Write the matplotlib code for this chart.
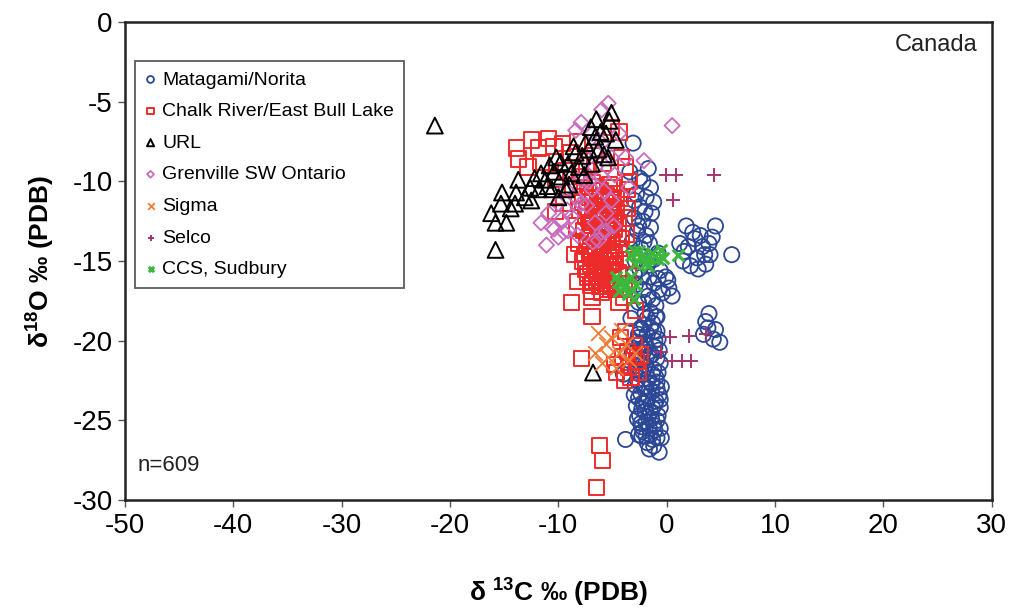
import matplotlib
matplotlib.use("Agg")
import matplotlib.pyplot as plt

plt.rcParams['font.family'] = ['Liberation Sans', 'DejaVu Sans']
plt.rcParams['mathtext.fontset'] = 'custom'
plt.rcParams['mathtext.rm'] = 'Liberation Sans'
plt.rcParams['mathtext.bf'] = 'Liberation Sans:bold'
plt.rcParams['axes.unicode_minus'] = False

# d13C / d18O pairs per site (permil, PDB)
matagami_c = [-3.1, -2.2, -2.8, -1.9, -2.5, -1.5, -3.0, -2.2, -1.4, -2.7, -1.9, -3.2, -2.4, -1.6, -0.8,
              -2.9, -1.8, -0.6, -2.3, -1.2, 0.1, -0.4, -1.7, -2.6, 0.5, -1.0, -2.0, -1.3, -2.4, -3.3,
              -0.1, -0.7, 0.2, -3.4, -3.0, -2.6,
              -2.5, -1.7, -3.0, -2.0, -1.2, -2.6, -1.5, -2.1, -3.0, -1.2, -2.5, -1.6, -0.8, -2.1, -1.3,
              -2.9, -0.9, -1.8,
              1.2, 1.8, 2.6, 3.3, 4.0, 3.6, 2.8, 2.2, 3.1, 4.5, 6.0, 3.9, 1.6,
              2.0, 3.5, 2.4, 4.2, 1.5, 2.9,
              3.9, 3.8, 4.3, 4.9, 3.4, 4.5, 3.6,
              -2.6, -1.8, -1.1, -2.2, -1.4, -0.7, -2.8, -2.0, -1.2, -0.6, -2.5, -1.7, -0.9, -2.9,
              -2.1, -1.4, -0.7, -2.6, -1.9, -1.1, -2.3, -1.5, -0.8, -2.7, -1.9, -1.2, -0.6, -2.2,
              -1.5, -0.9, -1.8, -1.2, -3.8, -0.7, -2.4, -1.6, -2.0, -1.0, -1.7, -2.5, -3.2, -3.0,
              -1.3, -2.3, -0.9, -4.0, -1.5, -2.1, -1.0, -2.4,
              -2.4, -1.5, -0.8, -2.7, -1.9, -1.1, -2.3, -0.9, -1.9, -0.8, -2.7, -1.4, -2.4, -1.7,
              -0.9, -2.8, -2.0, -1.3, -0.6, -2.5, -1.4, -2.3, -1.6, -0.9, -2.6, -1.9, -1.3, -1.6,
              -2.1, -1.2, -0.5, -0.6, -2.9, -1.7, -2.2, -1.1, -0.5, -1.0]
matagami_o = [-7.6, -10.0, -10.8, -11.0, -11.6, -10.4, -12.3, -12.5, -12.0, -13.1, -13.4, -13.8, -14.2, -13.9, -14.5,
              -15.0, -15.3, -15.6, -16.0, -16.4, -16.2, -17.0, -17.2, -17.6, -17.2, -17.8, -18.3, -18.9, -19.2, -18.6,
              -16.0, -16.8, -16.7, -9.4, -15.8, -19.6,
              -9.8, -9.2, -11.2, -11.9, -11.3, -12.8, -12.9, -13.8, -14.5, -14.9, -15.5, -16.0, -16.1, -16.8, -17.4,
              -16.5, -18.5, -18.6,
              -13.9, -12.8, -13.6, -14.1, -14.6, -15.2, -14.8, -15.3, -13.4, -12.8, -14.6, -13.9, -14.4,
              -14.1, -14.6, -13.2, -13.5, -15.0, -15.5,
              -18.3, -19.2, -19.9, -20.1, -19.6, -19.3, -18.8,
              -19.8, -19.6, -20.0, -20.5, -20.9, -20.6, -21.2, -21.5, -21.8, -21.4, -22.1, -22.4, -22.6, -22.8,
              -23.0, -23.2, -23.4, -23.6, -23.8, -24.0, -24.3, -24.5, -24.7, -24.9, -25.1, -25.3, -25.5, -25.7,
              -25.9, -26.1, -26.4, -26.6, -26.2, -27.0, -21.8, -21.0, -22.9, -23.8, -24.8, -20.2, -20.8, -23.4,
              -22.1, -26.0, -19.4, -22.1, -18.2, -17.6, -18.5, -25.2,
              -19.3, -19.2, -19.9, -20.6, -20.3, -20.4, -21.1, -21.1, -22.0, -22.0, -22.5, -22.7, -23.3, -23.5,
              -23.0, -24.1, -24.4, -24.2, -24.2, -24.7, -24.9, -25.4, -25.5, -25.0, -25.9, -26.0, -26.2, -26.8,
              -19.0, -19.4, -22.9, -23.7, -21.8, -20.7, -23.9, -25.6, -26.1, -22.3]

chalk_c = [-7.6, -6.9, -6.1, -5.3, -4.6, -7.8, -7.1, -6.4, -5.7, -4.9, -4.3, -7.5, -6.8, -6.0, -5.2, -4.5,
           -7.7, -7.0, -6.3, -5.5, -4.8, -4.2, -7.4, -6.6, -5.9, -5.1, -4.4, -7.8, -7.0, -6.2, -5.4, -4.7,
           -7.3, -6.5, -5.8, -5.0, -4.3, -6.9, -6.0, -5.2, -8.3, -8.5, -8.2, -3.9, -3.8, -3.6,
           -7.2, -6.5, -5.6, -4.9, -7.4, -6.7, -6.0, -5.3, -4.6, -7.1, -6.4, -5.6, -4.9, -7.3, -6.6,
           -5.8, -5.0, -4.5, -7.6, -6.9, -6.1, -5.4, -4.8, -7.5, -6.7, -5.9, -5.1, -4.5, -7.0, -6.2,
           -5.5, -4.7, -3.7, -3.5, -3.9, -3.6, -4.0, -7.9, -8.0, -8.1,
           -6.8, -6.0, -5.2, -7.2, -6.3, -5.5, -4.7, -6.9, -6.1, -5.3, -7.1, -6.2, -5.4, -6.6, -5.7,
           -4.9, -7.3, -6.4, -5.6, -6.8, -5.9, -5.1,
           -13.9, -13.7, -12.5, -11.8, -10.9, -10.4, -12.8, -11.6, -9.6, -8.9, -8.2, -9.3, -10.3, -7.4,
           -6.7, -5.8, -5.1, -4.4, -4.2, -3.8, -3.4, -8.7, -10.3, -9.5, -8.0,
           -8.8, -6.9, -6.9, -4.4, -7.9, -3.5, -2.9, -5.5, -3.8, -3.0, -2.4, -4.1, -3.3, -2.6, -4.6,
           -4.3, -3.6, -2.8, -3.9, -3.1, -4.8,
           -6.2, -5.9, -6.5]
chalk_o = [-10.4, -10.1, -10.6, -10.2, -10.8, -11.3, -11.0, -11.5, -11.2, -11.6, -11.1, -12.2, -12.0, -12.4, -12.1, -12.6,
           -13.1, -13.4, -13.0, -13.3, -13.0, -13.6, -14.1, -14.3, -14.0, -14.4, -14.2, -15.0, -15.2, -14.9, -15.3, -15.0,
           -16.0, -16.2, -15.8, -16.1, -16.4, -16.9, -17.0, -16.8, -12.8, -14.6, -16.3, -12.3, -14.9, -10.5,
           -10.7, -10.3, -10.9, -10.4, -11.7, -11.8, -11.9, -11.7, -11.9, -12.6, -12.7, -12.8, -12.5, -13.7, -13.7,
           -13.6, -13.8, -13.5, -14.6, -14.7, -14.5, -14.7, -14.6, -15.5, -15.6, -15.4, -15.6, -15.7, -16.5, -16.6,
           -16.4, -16.7, -13.3, -15.9, -16.8, -11.7, -17.3, -10.0, -11.8, -13.9,
           -11.1, -11.3, -11.0, -12.3, -12.2, -12.4, -12.3, -13.2, -13.5, -13.1, -14.4, -14.2, -14.0, -15.1, -15.0,
           -15.2, -15.8, -16.0, -16.2, -16.3, -16.6, -16.5,
           -7.9, -8.6, -7.4, -7.9, -7.3, -7.8, -9.1, -8.8, -7.6, -8.2, -7.5, -9.3, -9.9, -9.0,
           -8.4, -8.9, -6.6, -6.9, -8.5, -9.1, -10.0, -10.4, -11.9, -11.4, -9.7,
           -17.6, -17.3, -18.5, -17.6, -21.1, -21.7, -18.1, -16.8, -19.4, -20.3, -20.9, -21.0, -22.3, -22.0, -22.0,
           -19.8, -20.7, -21.3, -22.5, -21.0, -21.5,
           -26.6, -27.5, -29.2]

url_c = [-21.4, -15.8, -16.2, -15.3, -15.2, -14.4, -14.8, -14.0, -13.7, -13.9, -13.1, -12.5, -12.6, -11.8,
         -11.6, -11.2, -10.6, -10.4, -10.2, -9.7, -9.1, -8.4, -8.1, -7.5, -7.0, -6.6, -6.3, -5.6, -5.1,
         -4.7, -5.4, -6.9, -15.8, -9.3, -10.0, -6.8,
         -9.8, -8.8, -7.8, -7.2, -6.1, -5.8, -8.6, -10.8, -12.2, -11.0, -9.0, -7.6, -6.5, -5.3]
url_o = [-6.5, -12.6, -12.0, -11.4, -10.7, -11.7, -12.6, -11.4, -9.9, -10.7, -11.0, -11.2, -10.4, -10.5,
         -9.5, -9.9, -10.5, -9.4, -8.5, -9.7, -8.9, -8.2, -9.1, -7.6, -6.6, -7.2, -8.0, -7.0, -5.7,
         -7.4, -8.5, -8.9, -14.3, -10.5, -11.0, -22.0,
         -8.8, -9.5, -8.4, -8.0, -6.9, -8.3, -7.8, -9.0, -9.8, -10.3, -10.2, -9.6, -6.1, -6.2]

grenville_c = [-5.4, -6.0, -7.9, -8.4, -6.9, -6.0, -5.1, -7.5, -6.6, -8.8, -7.9, -9.3, -10.0, -10.9,
               -11.6, -10.6, -10.0, -9.1, -8.8, -7.9, -6.9, -6.0, -6.6, -5.6, -6.0, -5.1, -3.8, -4.4,
               0.5, -2.1, -9.5, -5.6, -6.3, -3.5, -11.1,
               -9.7, -8.4, -7.2, -6.4, -10.4, -9.2, -7.4, -5.8, -4.8, -6.8, -4.9, -8.2]
grenville_o = [-5.1, -5.5, -6.3, -6.8, -7.0, -7.6, -8.5, -8.5, -9.1, -9.5, -9.9, -10.5, -11.4, -12.0,
               -12.6, -12.9, -13.5, -13.1, -12.2, -11.4, -10.5, -9.7, -12.6, -12.0, -13.2, -11.2, -8.5, -7.0,
               -6.5, -8.7, -13.2, -13.1, -13.7, -10.4, -14.0,
               -12.4, -11.0, -10.0, -8.2, -13.0, -11.8, -11.5, -10.6, -9.6, -13.8, -12.8, -13.4]

sigma_c = [-6.3, -5.6, -5.1, -6.6, -5.4, -4.4, -3.8, -3.5, -4.2, -2.9, -4.7, -6.0]
sigma_o = [-19.5, -20.2, -19.8, -20.8, -21.0, -20.8, -20.2, -21.2, -19.3, -20.8, -21.7, -21.4]

selco_c = [-0.1, 0.9, 4.4, 0.6, 0.3, 2.1, 3.6, 0.5, 1.4, 2.2, -0.5]
selco_o = [-9.6, -9.6, -9.6, -11.2, -19.8, -19.7, -19.6, -21.3, -21.3, -21.3, -20.7]

ccs_c = [-3.3, -2.6, -2.0, -1.4, -0.8, -2.9, -1.7, -0.5, 1.0, -4.7, -4.0, -3.3, -2.8, -4.4, -3.6, -3.0,
         -2.3, -1.1, -3.0, -0.3, -1.9, -3.9, -4.5, -3.2]
ccs_o = [-14.6, -14.4, -14.8, -14.5, -14.9, -15.2, -15.3, -14.3, -14.6, -16.0, -16.3, -16.0, -16.5, -16.9, -17.1, -17.4,
         -14.6, -14.7, -14.4, -14.8, -15.1, -16.6, -16.3, -16.8]

fig = plt.figure(figsize=(10.13, 6.12), dpi=100)
ax = fig.add_axes([0.1234, 0.183, 0.8556, 0.781])

ax.scatter(matagami_c, matagami_o, s=120, marker='o', facecolors='none', edgecolors='#2b4796',
           linewidths=1.3, label='Matagami/Norita')
ax.scatter(chalk_c, chalk_o, s=120, marker='s', facecolors='none', edgecolors='#ee2b2b',
           linewidths=1.4, label='Chalk River/East Bull Lake')
ax.scatter(grenville_c, grenville_o, s=60, marker='D', facecolors='none', edgecolors='#c86cbd',
           linewidths=1.3, label='Grenville SW Ontario', zorder=3)
ax.scatter(url_c, url_o, s=130, marker='^', facecolors='none', edgecolors='black',
           linewidths=1.4, label='URL', zorder=4)
ax.scatter(sigma_c, sigma_o, s=110, marker='x', color='#f07b35', linewidths=1.3, label='Sigma', zorder=4)
ax.scatter(selco_c, selco_o, s=100, marker='+', color='#a3356f', linewidths=1.4, label='Selco', zorder=4)
ax.scatter(ccs_c, ccs_o, s=70, marker='x', color='#3cb93c', linewidths=2.2, label='CCS, Sudbury', zorder=5)

ax.set_xlim(-50, 30)
ax.set_ylim(-30, 0)
ax.set_xticks(range(-50, 31, 10))
ax.set_yticks(range(-30, 1, 5))
ax.tick_params(labelsize=20, length=5, width=1, color='#555555', pad=4)
for sp in ax.spines.values():
    sp.set_linewidth(1.8)
    sp.set_color('#222222')

ax.set_xlabel('δ $^{\\mathbf{13}}$C ‰ (PDB)', fontsize=19, fontweight='bold', labelpad=26)
ax.set_ylabel('δ$^{\\mathbf{18}}$O ‰ (PDB)', fontsize=19, fontweight='bold', labelpad=12)

ax.text(0.984, 0.952, 'Canada', transform=ax.transAxes, ha='right', va='center', fontsize=17, color='#222222')
ax.text(0.014, 0.073, 'n=609', transform=ax.transAxes, ha='left', va='center', fontsize=16, color='#222222')

# legend order as in the key
h, l = ax.get_legend_handles_labels()
order = ['Matagami/Norita', 'Chalk River/East Bull Lake', 'URL', 'Grenville SW Ontario',
         'Sigma', 'Selco', 'CCS, Sudbury']
hm = dict(zip(l, h))
leg = ax.legend([hm[k] for k in order], order, loc='upper left', bbox_to_anchor=(0.0115, 0.918),
                borderaxespad=0, fontsize=14, markerscale=0.45, handlelength=0.6, handletextpad=0.3,
                labelspacing=0.72, borderpad=0.5, frameon=True, fancybox=False)
leg.get_frame().set_edgecolor('#333333')
leg.get_frame().set_linewidth(1.3)

fig.savefig('out.png', dpi=100)
